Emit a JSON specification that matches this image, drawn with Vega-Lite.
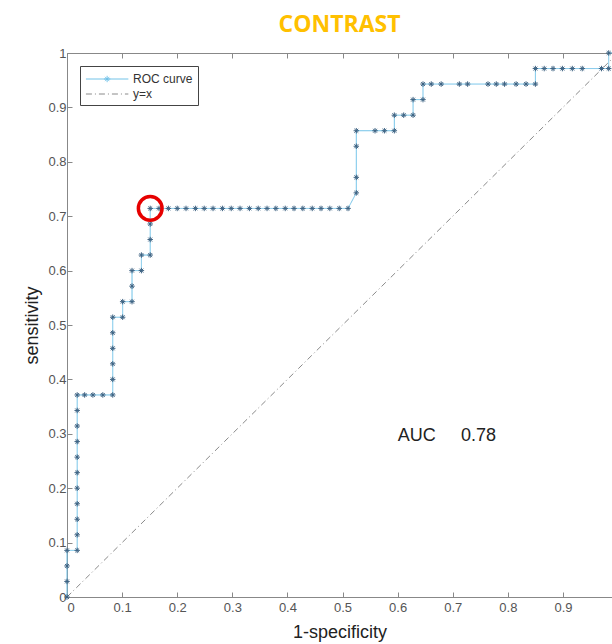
{
  "$schema": "https://vega.github.io/schema/vega-lite/v6.json",
  "width": 545,
  "height": 544,
  "autosize": {"type": "none"},
  "padding": {"left": 67, "top": 53, "right": 0, "bottom": 47},
  "background": "white",
  "title": {"text": "CONTRAST", "font": "Open Sans", "fontWeight": "bold", "fontSize": 23, "color": "#FFC000", "anchor": "middle", "offset": 10},
  "datasets": {
    "roc": [
      {"i": 1, "x": 0, "y": 0, "series": "ROC curve"},
      {"i": 2, "x": 0, "y": 0.0286, "series": "ROC curve"},
      {"i": 3, "x": 0, "y": 0.0571, "series": "ROC curve"},
      {"i": 4, "x": 0, "y": 0.0857, "series": "ROC curve"},
      {"i": 5, "x": 0.0185, "y": 0.0857, "series": "ROC curve"},
      {"i": 6, "x": 0.0185, "y": 0.1143, "series": "ROC curve"},
      {"i": 7, "x": 0.0185, "y": 0.1429, "series": "ROC curve"},
      {"i": 8, "x": 0.0185, "y": 0.1714, "series": "ROC curve"},
      {"i": 9, "x": 0.0185, "y": 0.2, "series": "ROC curve"},
      {"i": 10, "x": 0.0185, "y": 0.2286, "series": "ROC curve"},
      {"i": 11, "x": 0.0185, "y": 0.2571, "series": "ROC curve"},
      {"i": 12, "x": 0.0185, "y": 0.2857, "series": "ROC curve"},
      {"i": 13, "x": 0.0185, "y": 0.3143, "series": "ROC curve"},
      {"i": 14, "x": 0.0185, "y": 0.3429, "series": "ROC curve"},
      {"i": 15, "x": 0.0185, "y": 0.3714, "series": "ROC curve"},
      {"i": 16, "x": 0.032, "y": 0.3714, "series": "ROC curve"},
      {"i": 17, "x": 0.047, "y": 0.3714, "series": "ROC curve"},
      {"i": 18, "x": 0.065, "y": 0.3714, "series": "ROC curve"},
      {"i": 19, "x": 0.083, "y": 0.3714, "series": "ROC curve"},
      {"i": 20, "x": 0.083, "y": 0.4, "series": "ROC curve"},
      {"i": 21, "x": 0.083, "y": 0.4286, "series": "ROC curve"},
      {"i": 22, "x": 0.083, "y": 0.4571, "series": "ROC curve"},
      {"i": 23, "x": 0.083, "y": 0.4857, "series": "ROC curve"},
      {"i": 24, "x": 0.083, "y": 0.5143, "series": "ROC curve"},
      {"i": 25, "x": 0.101, "y": 0.5143, "series": "ROC curve"},
      {"i": 26, "x": 0.101, "y": 0.5429, "series": "ROC curve"},
      {"i": 27, "x": 0.118, "y": 0.5429, "series": "ROC curve"},
      {"i": 28, "x": 0.118, "y": 0.5714, "series": "ROC curve"},
      {"i": 29, "x": 0.118, "y": 0.6, "series": "ROC curve"},
      {"i": 30, "x": 0.135, "y": 0.6, "series": "ROC curve"},
      {"i": 31, "x": 0.135, "y": 0.6286, "series": "ROC curve"},
      {"i": 32, "x": 0.151, "y": 0.6286, "series": "ROC curve"},
      {"i": 33, "x": 0.151, "y": 0.6571, "series": "ROC curve"},
      {"i": 34, "x": 0.151, "y": 0.6857, "series": "ROC curve"},
      {"i": 35, "x": 0.151, "y": 0.7143, "series": "ROC curve"},
      {"i": 36, "x": 0.167, "y": 0.7143, "series": "ROC curve"},
      {"i": 37, "x": 0.184, "y": 0.7143, "series": "ROC curve"},
      {"i": 38, "x": 0.2, "y": 0.7143, "series": "ROC curve"},
      {"i": 39, "x": 0.216, "y": 0.7143, "series": "ROC curve"},
      {"i": 40, "x": 0.233, "y": 0.7143, "series": "ROC curve"},
      {"i": 41, "x": 0.249, "y": 0.7143, "series": "ROC curve"},
      {"i": 42, "x": 0.265, "y": 0.7143, "series": "ROC curve"},
      {"i": 43, "x": 0.282, "y": 0.7143, "series": "ROC curve"},
      {"i": 44, "x": 0.298, "y": 0.7143, "series": "ROC curve"},
      {"i": 45, "x": 0.314, "y": 0.7143, "series": "ROC curve"},
      {"i": 46, "x": 0.331, "y": 0.7143, "series": "ROC curve"},
      {"i": 47, "x": 0.347, "y": 0.7143, "series": "ROC curve"},
      {"i": 48, "x": 0.363, "y": 0.7143, "series": "ROC curve"},
      {"i": 49, "x": 0.379, "y": 0.7143, "series": "ROC curve"},
      {"i": 50, "x": 0.396, "y": 0.7143, "series": "ROC curve"},
      {"i": 51, "x": 0.412, "y": 0.7143, "series": "ROC curve"},
      {"i": 52, "x": 0.428, "y": 0.7143, "series": "ROC curve"},
      {"i": 53, "x": 0.445, "y": 0.7143, "series": "ROC curve"},
      {"i": 54, "x": 0.461, "y": 0.7143, "series": "ROC curve"},
      {"i": 55, "x": 0.477, "y": 0.7143, "series": "ROC curve"},
      {"i": 56, "x": 0.494, "y": 0.7143, "series": "ROC curve"},
      {"i": 57, "x": 0.51, "y": 0.7143, "series": "ROC curve"},
      {"i": 58, "x": 0.525, "y": 0.7429, "series": "ROC curve"},
      {"i": 59, "x": 0.525, "y": 0.7714, "series": "ROC curve"},
      {"i": 60, "x": 0.525, "y": 0.8286, "series": "ROC curve"},
      {"i": 61, "x": 0.525, "y": 0.8571, "series": "ROC curve"},
      {"i": 62, "x": 0.559, "y": 0.8571, "series": "ROC curve"},
      {"i": 63, "x": 0.576, "y": 0.8571, "series": "ROC curve"},
      {"i": 64, "x": 0.594, "y": 0.8571, "series": "ROC curve"},
      {"i": 65, "x": 0.594, "y": 0.8857, "series": "ROC curve"},
      {"i": 66, "x": 0.611, "y": 0.8857, "series": "ROC curve"},
      {"i": 67, "x": 0.628, "y": 0.8857, "series": "ROC curve"},
      {"i": 68, "x": 0.628, "y": 0.9143, "series": "ROC curve"},
      {"i": 69, "x": 0.646, "y": 0.9143, "series": "ROC curve"},
      {"i": 70, "x": 0.646, "y": 0.9429, "series": "ROC curve"},
      {"i": 71, "x": 0.661, "y": 0.9429, "series": "ROC curve"},
      {"i": 72, "x": 0.679, "y": 0.9429, "series": "ROC curve"},
      {"i": 73, "x": 0.712, "y": 0.9429, "series": "ROC curve"},
      {"i": 74, "x": 0.727, "y": 0.9429, "series": "ROC curve"},
      {"i": 75, "x": 0.764, "y": 0.9429, "series": "ROC curve"},
      {"i": 76, "x": 0.779, "y": 0.9429, "series": "ROC curve"},
      {"i": 77, "x": 0.794, "y": 0.9429, "series": "ROC curve"},
      {"i": 78, "x": 0.815, "y": 0.9429, "series": "ROC curve"},
      {"i": 79, "x": 0.833, "y": 0.9429, "series": "ROC curve"},
      {"i": 80, "x": 0.85, "y": 0.9429, "series": "ROC curve"},
      {"i": 81, "x": 0.85, "y": 0.9714, "series": "ROC curve"},
      {"i": 82, "x": 0.866, "y": 0.9714, "series": "ROC curve"},
      {"i": 83, "x": 0.882, "y": 0.9714, "series": "ROC curve"},
      {"i": 84, "x": 0.899, "y": 0.9714, "series": "ROC curve"},
      {"i": 85, "x": 0.917, "y": 0.9714, "series": "ROC curve"},
      {"i": 86, "x": 0.935, "y": 0.9714, "series": "ROC curve"},
      {"i": 87, "x": 0.97, "y": 0.9714, "series": "ROC curve"},
      {"i": 88, "x": 0.983, "y": 0.9714, "series": "ROC curve"},
      {"i": 89, "x": 0.983, "y": 1, "series": "ROC curve"},
      {"i": 90, "x": 1, "y": 1, "series": "ROC curve"},
      {"i": 1, "x": 0, "y": 0, "series": "y=x"},
      {"i": 2, "x": 1, "y": 1, "series": "y=x"}
    ],
    "notes": [
      {"x": 0.6, "y": 0.296, "label": "AUC"},
      {"x": 0.715, "y": 0.296, "label": "0.78"}
    ],
    "highlight": [
      {"x": 0.151, "y": 0.7143}
    ]
  },
  "layer": [
    {
      "data": {"name": "roc"},
      "mark": {"type": "line", "strokeWidth": 1},
      "encoding": {
        "x": {"field": "x", "type": "quantitative", "scale": {"domain": [0, 0.989], "nice": false, "zero": false},
              "axis": {"orient": "bottom", "values": [0, 0.1, 0.2, 0.3, 0.4, 0.5, 0.6, 0.7, 0.8, 0.9], "format": ".1~f", "title": "1-specificity", "titlePadding": 9, "labelPadding": 9}},
        "y": {"field": "y", "type": "quantitative", "scale": {"domain": [0, 1], "nice": false},
              "axis": {"values": [0, 0.1, 0.2, 0.3, 0.4, 0.5, 0.6, 0.7, 0.8, 0.9, 1], "format": ".1~f", "title": "sensitivity", "titlePadding": 6, "labelPadding": 6}},
        "order": {"field": "i", "type": "quantitative"},
        "color": {"field": "series", "type": "nominal",
                  "scale": {"domain": ["ROC curve", "y=x"], "range": ["#6EC1E8", "#8a8a8a"]},
                  "legend": {"title": null,
                             "encode": {"symbols": {"update": {"shape": {"signal": "datum.value === 'ROC curve' ? 'M-1,0L5,0M2,-0.45L2,0.45M1.55,0L2.45,0M1.7,-0.3L2.3,0.3M1.7,0.3L2.3,-0.3' : 'M-1,0L5,0'"}}}}}},
        "strokeDash": {"field": "series", "type": "nominal",
                  "scale": {"domain": ["ROC curve", "y=x"], "range": [[1, 0], [6, 3, 1, 3]]},
                  "legend": {"title": null,
                             "encode": {"symbols": {"update": {"shape": {"signal": "datum.value === 'ROC curve' ? 'M-1,0L5,0M2,-0.45L2,0.45M1.55,0L2.45,0M1.7,-0.3L2.3,0.3M1.7,0.3L2.3,-0.3' : 'M-1,0L5,0'"}}}}}}
      }
    },
    {
      "data": {"name": "roc"},
      "transform": [{"filter": "datum.series == 'ROC curve'"}],
      "mark": {"type": "point", "shape": "M-1,0L1,0M0,-1L0,1M-0.7,-0.7L0.7,0.7M-0.7,0.7L0.7,-0.7", "size": 30, "filled": false, "stroke": "#3d6282", "strokeWidth": 1, "opacity": 1},
      "encoding": {
        "x": {"field": "x", "type": "quantitative",
              "axis": {"orient": "top", "values": [0, 0.1, 0.2, 0.3, 0.4, 0.5, 0.6, 0.7, 0.8, 0.9], "labels": false, "title": null, "domain": false}},
        "y": {"field": "y", "type": "quantitative"}
      }
    },
    {
      "data": {"name": "highlight"},
      "mark": {"type": "point", "shape": "circle", "size": 560, "filled": false, "stroke": "#E60000", "strokeWidth": 3.5, "opacity": 1},
      "encoding": {
        "x": {"field": "x", "type": "quantitative", "axis": null},
        "y": {"field": "y", "type": "quantitative"}
      }
    },
    {
      "data": {"name": "notes"},
      "mark": {"type": "text", "align": "left", "baseline": "middle", "font": "Liberation Sans", "fontSize": 18, "color": "#222"},
      "encoding": {
        "x": {"field": "x", "type": "quantitative", "axis": null},
        "y": {"field": "y", "type": "quantitative"},
        "text": {"field": "label"}
      }
    }
  ],
  "resolve": {"axis": {"x": "independent"}},
  "config": {
    "view": {"stroke": "#888", "strokeWidth": 1},
    "axis": {"domainColor": "#888", "tickColor": "#888", "labelColor": "#555", "labelFont": "Liberation Sans", "labelFontSize": 13,
             "titleFont": "Liberation Sans", "titleFontWeight": "normal", "titleFontSize": 18, "titleColor": "#222", "grid": false, "tickSize": -5},
    "legend": {"orient": "top-left", "offset": 13, "strokeColor": "#444", "fillColor": "white", "padding": 5,
               "labelFont": "Liberation Sans", "labelFontSize": 12, "labelColor": "#333", "labelOffset": 32,
               "symbolType": "M-1,0L5,0", "symbolSize": 200, "symbolStrokeWidth": 1, "rowPadding": 1}
  }
}
